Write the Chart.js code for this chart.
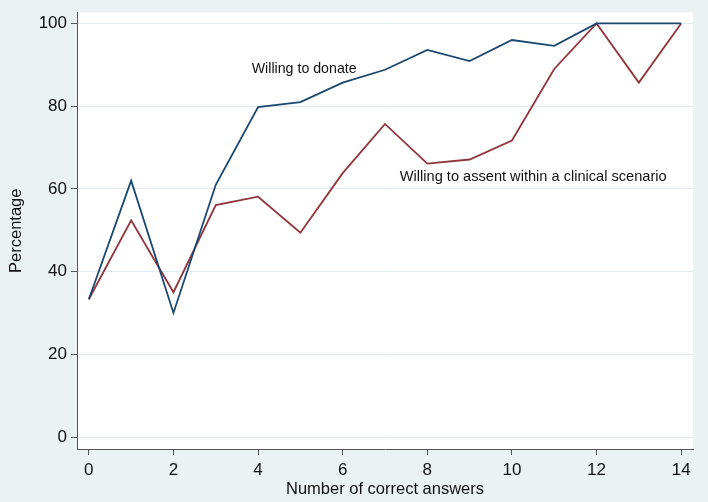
<!DOCTYPE html>
<html>
<head>
<meta charset="utf-8">
<script src="https://cdn.jsdelivr.net/npm/chart.js@4/dist/chart.umd.min.js"></script>
<style>
  html, body { margin: 0; padding: 0; background: #eaf2f3; }
  #wrap { width: 708px; height: 502px; }
</style>
</head>
<body>
<div id="wrap"><canvas id="chart"></canvas></div>
<script>
// Number of correct answers (x) and percentages
const answers = [0, 1, 2, 3, 4, 5, 6, 7, 8, 9, 10, 11, 12, 13, 14];
const donate = [33.3, 62, 30, 61, 79.8, 81, 85.7, 88.8, 93.6, 90.9, 96, 94.6, 100, 100, 100];
const assent = [33.3, 52.4, 35, 56.1, 58.1, 49.4, 63.8, 75.7, 66.1, 67.1, 71.7, 89, 100, 85.7, 100];
const xTicks = [0, 2, 4, 6, 8, 10, 12, 14];
const yTicks = [0, 20, 40, 60, 80, 100];

const axisColor = '#555555';
const gridColor = '#e0ebef';
const fontFamily = '"Liberation Sans", Arial, sans-serif';

// white plot region + line labels
const plotBg = {
    id: 'plotBg',
    beforeDraw(chart) {
        const { ctx, chartArea: a } = chart;
        ctx.save();
        ctx.fillStyle = '#ffffff';
        ctx.fillRect(a.left, a.top, a.right - a.left, a.bottom - a.top);
        ctx.restore();
    },
    afterDatasetsDraw(chart) {
        const { ctx, scales: { x, y } } = chart;
        ctx.save();
        ctx.fillStyle = '#111111';
        ctx.textBaseline = 'middle';
        ctx.font = '14.2px ' + fontFamily;
        ctx.fillText('Willing to donate', x.getPixelForValue(3.85), y.getPixelForValue(89));
        ctx.font = '14.6px ' + fontFamily;
        ctx.fillText('Willing to assent within a clinical scenario', x.getPixelForValue(7.35), y.getPixelForValue(62.9));
        ctx.restore();
    }
};

const ctx = document.getElementById('chart').getContext('2d');
const chart = new Chart(ctx, {
    type: 'line',
    data: {
        labels: answers,
        datasets: [{
            label: 'Willing to donate',
            data: answers.map((a, i) => ({ x: a, y: donate[i] })),
            borderColor: '#1a476f',
            borderWidth: 1.8,
            pointRadius: 0,
            tension: 0,
            fill: false
        }, {
            label: 'Willing to assent within a clinical scenario',
            data: answers.map((a, i) => ({ x: a, y: assent[i] })),
            borderColor: '#90353b',
            borderWidth: 1.8,
            pointRadius: 0,
            tension: 0,
            fill: false
        }]
    },
    options: {
        responsive: true,
        maintainAspectRatio: false,
        animation: false,
        layout: { padding: { top: 11, right: 15, left: 0, bottom: 0 } },
        plugins: {
            legend: { display: false },
            tooltip: { enabled: false }
        },
        scales: {
            x: {
                type: 'linear',
                min: -0.28,
                max: 14.28,
                afterBuildTicks: s => { s.ticks = xTicks.map(v => ({ value: v })); },
                afterFit: s => { s.height = 53; },
                border: { color: axisColor, width: 1 },
                grid: { drawOnChartArea: false, tickColor: axisColor, tickLength: 6 },
                ticks: {
                    color: '#111111',
                    font: { family: fontFamily, size: 17 },
                    padding: 5,
                    maxRotation: 0
                },
                title: {
                    display: true,
                    text: 'Number of correct answers',
                    color: '#111111',
                    font: { family: fontFamily, size: 16.5 },
                    padding: { top: 0, bottom: 3 }
                }
            },
            y: {
                min: -2.9,
                max: 102.65,
                afterBuildTicks: s => { s.ticks = yTicks.map(v => ({ value: v })); },
                afterFit: s => { s.width = 77; },
                border: { color: axisColor, width: 1 },
                grid: { color: gridColor, lineWidth: 1, tickColor: axisColor, tickLength: 6 },
                ticks: {
                    color: '#111111',
                    font: { family: fontFamily, size: 17, lineHeight: 1 },
                    padding: 4
                },
                title: {
                    display: true,
                    text: 'Percentage',
                    color: '#111111',
                    font: { family: fontFamily, size: 16.5 },
                    padding: { top: 7, bottom: 0 }
                }
            }
        }
    },
    plugins: [plotBg]
});
</script>
</body>
</html>
